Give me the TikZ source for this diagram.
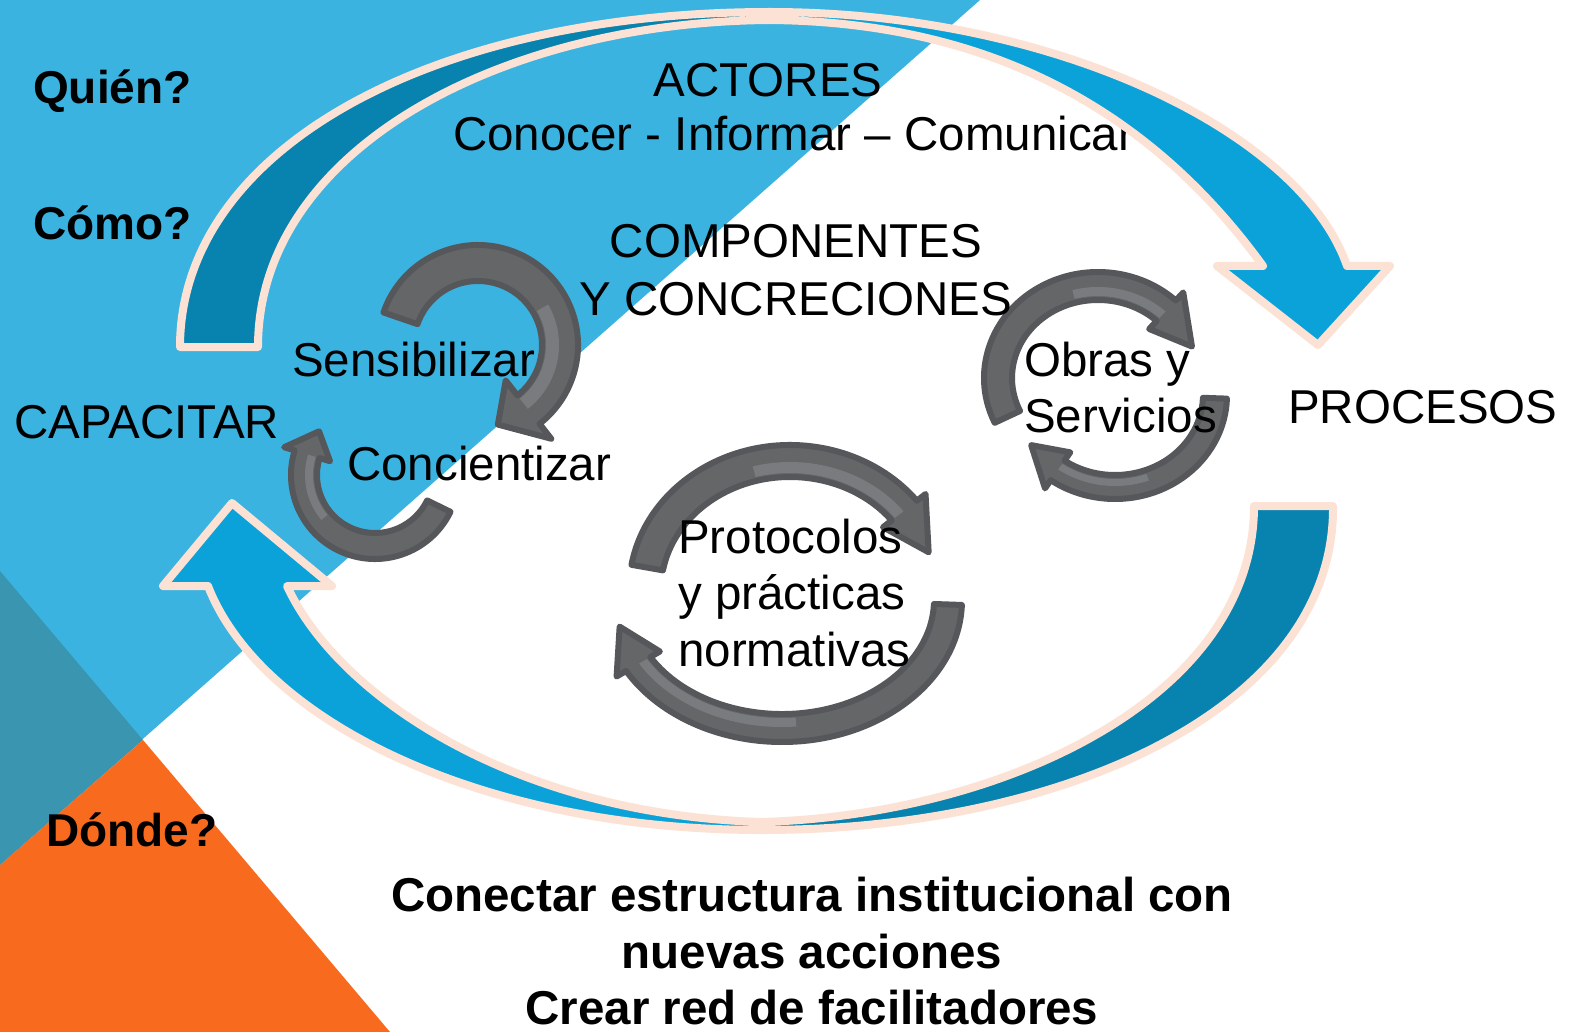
\documentclass[tikz,border=0pt]{standalone}
\usepackage{fontspec}
\setmainfont{Liberation Sans}
\definecolor{bgblue}{HTML}{3BB3E0}
\definecolor{bgteal}{HTML}{3A95B1}
\definecolor{bgorange}{HTML}{F86B1E}
\definecolor{adark}{HTML}{0882AF}
\definecolor{alight}{HTML}{0BA2D9}
\definecolor{peach}{HTML}{FCE2D4}
\definecolor{gfill}{HTML}{656668}
\definecolor{glight}{HTML}{7A7B7E}
\definecolor{gline}{HTML}{56575A}
\tikzset{
 bigline/.style={draw=peach, line width=8, line join=round},
 grayarrow/.style={fill=gfill, draw=gline, line width=6, line join=round},
 lbl/.style={inner sep=0, anchor=base west, font=\fontsize{47.5}{57}\selectfont},
 lblc/.style={inner sep=0, anchor=base, font=\fontsize{47.5}{57}\selectfont},
 qlbl/.style={inner sep=0, anchor=base west, font=\bfseries\fontsize{46}{55}\selectfont},
 blbl/.style={inner sep=0, anchor=base, font=\bfseries\fontsize{47.5}{57}\selectfont},
}
% cx cy rx ry h a1 a2 a3 H
\newcommand\garrow[9]{%
 \pgfmathsetmacro\gArxo{#3+#5}\pgfmathsetmacro\gAryo{#4+#5}%
 \pgfmathsetmacro\gArxi{#3-#5}\pgfmathsetmacro\gAryi{#4-#5}%
 \filldraw[grayarrow] ({#1+\gArxo*cos(#6)},{#2+\gAryo*sin(#6)})
  arc[start angle=#6, end angle=#7, x radius=\gArxo, y radius=\gAryo]
  -- ({#1+(#3+#9)*cos(#7)},{#2+(#4+#9)*sin(#7)})
  -- ({#1+#3*cos(#8)},{#2+#4*sin(#8)})
  -- ({#1+(#3-#9)*cos(#7)},{#2+(#4-#9)*sin(#7)})
  -- ({#1+\gArxi*cos(#7)},{#2+\gAryi*sin(#7)})
  arc[start angle=#7, end angle=#6, x radius=\gArxi, y radius=\gAryi]
  -- cycle;}
% light stripe on the inner half: cx cy rx ry h from to
\newcommand\gstripe[7]{%
 \pgfmathsetmacro\gSxo{#3-1}\pgfmathsetmacro\gSyo{#4-1}%
 \pgfmathsetmacro\gSxi{#3-#5+4}\pgfmathsetmacro\gSyi{#4-#5+4}%
 \fill[glight] ({#1+\gSxo*cos(#6)},{#2+\gSyo*sin(#6)})
  arc[start angle=#6, end angle=#7, x radius=\gSxo, y radius=\gSyo]
  -- ({#1+\gSxi*cos(#7)},{#2+\gSyi*sin(#7)})
  arc[start angle=#7, end angle=#6, x radius=\gSxi, y radius=\gSyi]
  -- cycle;}
\def\TopArrow{(180,347) .. controls (180,150) and (430,12) .. (770,12)
  .. controls (1050,12) and (1300,130) .. (1347,266) -- (1390,266) -- (1318,345)
  -- (1217,266) -- (1263,266) .. controls (1150,110) and (990,22) .. (770,20)
  .. controls (500,22) and (258,150) .. (258,347) -- cycle}
\def\BotArrow{(1333,506) .. controls (1335,710) and (1060,830) .. (762,830)
  .. controls (480,830) and (260,720) .. (208,586) -- (163,586) -- (232,503)
  -- (332,586) -- (287,586) .. controls (340,700) and (520,815) .. (762,822)
  .. controls (1000,815) and (1254,700) .. (1254,506) -- cycle}
\begin{document}
\begin{tikzpicture}[x=1pt,y=1pt,yscale=-1]
\useasboundingbox (0,0) rectangle (1576,1032);
\fill[white] (0,0) rectangle (1576,1032);
% background
\fill[bgblue] (0,0) -- (980,0) -- (0,865) -- cycle;
\fill[bgteal] (0,571) -- (143,740) -- (0,865) -- cycle;
\fill[bgorange] (0,865) -- (143,740) -- (390,1032) -- (0,1032) -- cycle;
% text under the top arrow
\node[lblc] (actores) at (768,97) {ACTORES};
\node[lbl] (conocer) at (453,151) {Conocer - Informar – Comunicar};
% big top arrow
\fill[alight] \TopArrow;
\begin{scope}\clip (0,0) rectangle (770,400); \fill[adark] \TopArrow; \end{scope}
\path[bigline] \TopArrow;
% big bottom arrow
\fill[alight] \BotArrow;
\begin{scope}\clip (765,400) rectangle (1576,900); \fill[adark] \BotArrow; \end{scope}
\path[bigline] \BotArrow;
% gray circular arrows
\garrow{478}{345}{82}{82}{18}{199}{412}{436}{37}
\gstripe{478}{345}{82}{82}{18}{330}{412}
\garrow{375}{475}{71}{71}{13}{26}{197}{218}{24}
\gstripe{375}{475}{71}{71}{13}{140}{197}
\garrow{1098}{378}{100}{92}{14}{155}{313}{340}{25}
\gstripe{1098}{378}{100}{92}{14}{255}{313}
\garrow{1115}{395}{100}{92}{12}{2}{125}{147}{22}
\gstripe{1115}{395}{100}{92}{12}{70}{125}
\garrow{790}{590}{145}{129}{16}{190}{322}{343}{27}
\gstripe{790}{590}{145}{129}{16}{255}{322}
\garrow{782}{600}{166}{128}{14}{2}{150}{168}{25}
\gstripe{782}{600}{166}{128}{14}{85}{150}
% labels
\node[qlbl] (quien) at (33,104) {Quién?};
\node[qlbl] (como) at (33,240) {Cómo?};
\node[qlbl] (donde) at (46,846) {Dónde?};
\node[lblc] (comp1) at (796,258) {COMPONENTES};
\node[lblc] (comp2) at (796,315) {Y CONCRECIONES};
\node[lbl] (sens) at (292,376) {Sensibilizar};
\node[lbl] (conc) at (347,480) {Concientizar};
\node[lbl] (capac) at (14,438) {CAPACITAR};
\node[lbl] (proc) at (1288,423) {PROCESOS};
\node[lbl] (obras1) at (1024,376) {Obras y};
\node[lbl] (obras2) at (1024,432) {Servicios};
\node[lbl] (prot1) at (678,553) {Protocolos};
\node[lbl] (prot2) at (678,609) {y prácticas};
\node[lbl] (prot3) at (678,666) {normativas};
\node[blbl] (bot1) at (812,911) {Conectar estructura institucional con};
\node[blbl] (bot2) at (812,968) {nuevas acciones};
\node[blbl] (bot3) at (812,1024) {Crear red de facilitadores};
\end{tikzpicture}
\end{document}
